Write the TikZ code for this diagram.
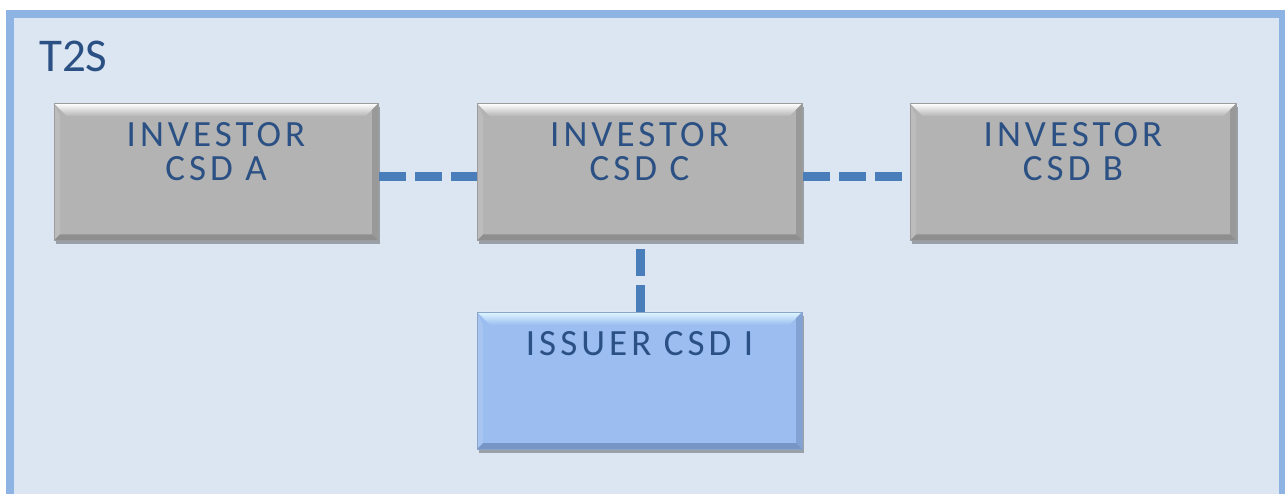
\documentclass[tikz,border=0pt]{standalone}
\usepackage{fontspec}
\setmainfont{Carlito}
\newfontfamily\boxfont[LetterSpace=11]{Carlito}
\usetikzlibrary{shadows}
\definecolor{framefill}{HTML}{DCE6F2}
\definecolor{frameline}{HTML}{8DB4E2}
\definecolor{txtblue}{HTML}{2B5084}
\definecolor{connblue}{HTML}{4A7EBB}
\definecolor{grayfill}{HTML}{B3B3B3}
\definecolor{graydark}{HTML}{858585}
\definecolor{bluefill}{HTML}{9BBDEF}
\definecolor{bluedark}{HTML}{6E8DBC}
\definecolor{bluelight}{HTML}{E0F8FF}
\newcommand{\csdtext}[1]{\parbox[c][137pt][t]{310pt}{\centering\vspace*{19pt}#1}}
\tikzset{
  bevel/.style n args={3}{path picture={
    \path (path picture bounding box.north west) coordinate (pnw)
          (path picture bounding box.south east) coordinate (pse);
    \shade[top color=#2, bottom color=#1]
      (pnw) -- (pnw -| pse) -- ([xshift=-13pt,yshift=-13pt]pnw -| pse)
      -- ([xshift=13pt,yshift=-13pt]pnw) -- cycle;
    \fill[#3, opacity=0.55]
      (pse) -- (pse |- pnw) -- ([xshift=-6pt,yshift=-6pt]pse |- pnw)
      -- ([xshift=-6pt,yshift=6pt]pse) -- cycle;
    \fill[#3, opacity=0.8]
      (pse) -- (pnw |- pse) -- ([xshift=6pt,yshift=6pt]pnw |- pse)
      -- ([xshift=-6pt,yshift=6pt]pse) -- cycle;
    \fill[white, opacity=0.12]
      (pnw) -- (pnw |- pse) -- ([xshift=6pt,yshift=6pt]pnw |- pse)
      -- ([xshift=6pt,yshift=-13pt]pnw) -- cycle;
  }},
  csdbox/.style={inner sep=0pt, minimum height=137pt, text=txtblue,
    font=\boxfont\fontsize{37}{34}\selectfont,
    drop shadow={shadow xshift=2pt, shadow yshift=-4pt, opacity=0.3, fill=black}},
  graybox/.style={csdbox, fill=grayfill, draw=graydark!80, line width=0.6pt,
    bevel={grayfill}{white}{graydark}},
  bluebox/.style={csdbox, fill=bluefill, draw=bluedark!80, line width=0.6pt,
    bevel={bluefill}{bluelight}{bluedark}},
  conn/.style={draw=connblue, line width=9pt, dash pattern=on 27pt off 9pt},
}
\begin{document}
\begin{tikzpicture}[x=1pt,y=1pt]
  \useasboundingbox (0,0) rectangle (1285,493);
  \clip (0,0) rectangle (1285,493);
  \draw[fill=framefill, draw=frameline, line width=8pt] (10,-30) rectangle (1283,478.5);
  \node[anchor=base west, text=txtblue, font=\fontsize{47}{50}\selectfont, inner sep=0pt]
    (t2s) at (39,421) {T2S};
  \node[graybox, minimum width=324pt] (A) at (216,321) {\csdtext{INVESTOR\\CSD A}};
  \node[graybox, minimum width=325pt] (C) at (639.5,321) {\csdtext{INVESTOR\\CSD C}};
  \node[graybox, minimum width=326pt] (B) at (1073,321) {\csdtext{INVESTOR\\CSD B}};
  \node[bluebox, minimum width=325pt] (I) at (639.5,112.5) {\csdtext{ISSUER CSD I}};
  \draw[conn] ([xshift=1pt,yshift=-5pt]A.east) -- ([yshift=-5pt]C.west);
  \draw[conn] ([xshift=1pt,yshift=-5pt]C.east) -- ([yshift=-5pt]B.west);
  \draw[conn, dash phase=28pt] ([xshift=1pt]C.south) -- ([xshift=1pt]I.north);
\end{tikzpicture}
\end{document}
